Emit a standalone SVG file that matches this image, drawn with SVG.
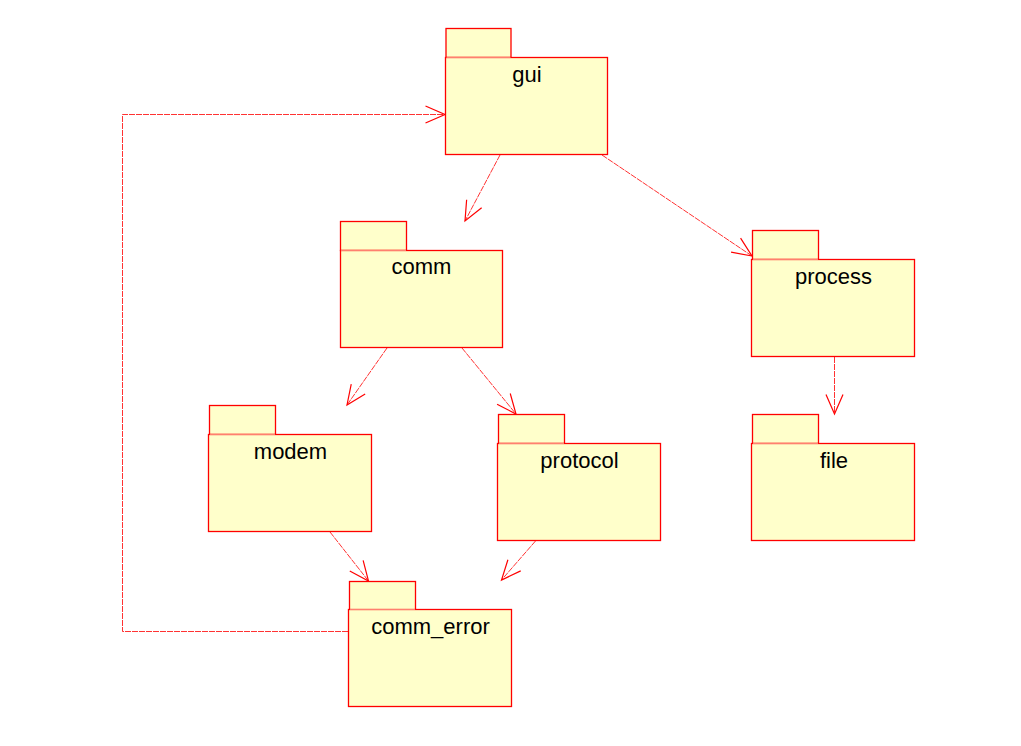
<svg xmlns="http://www.w3.org/2000/svg" width="1021" height="746" viewBox="0 0 1021 746">
<style>
.tab{fill:#ffffcb;stroke:#f00;stroke-width:1.3}
.body{fill:#ffffcb;stroke:#f00;stroke-width:1.3}
.join{stroke:#ff8070;stroke-width:1.2}
.lbl{font-family:"Liberation Sans",Arial,sans-serif;font-size:22px;fill:#000;text-anchor:middle}
.dep{fill:none;stroke:#f00;stroke-width:1;stroke-dasharray:6 1;stroke-opacity:0.8}
</style>
<defs>
<marker id="open" markerUnits="userSpaceOnUse" markerWidth="24" markerHeight="20" viewBox="-22 -10 24 20" refX="0" refY="0" orient="auto" overflow="visible">
<path d="M-19.5,-8.5 L0,0 L-19.5,8.5" fill="none" stroke="#f00" stroke-width="1.2"/>
</marker>
</defs>
<rect width="1021" height="746" fill="#fff"/>
<g id="connectors">
<line class="dep" x1="500" y1="155" x2="465" y2="221" marker-end="url(#open)"/>
<line class="dep" x1="602" y1="155" x2="752" y2="256" marker-end="url(#open)"/>
<line class="dep" x1="387" y1="348" x2="347" y2="405" marker-end="url(#open)"/>
<line class="dep" x1="462" y1="348" x2="516" y2="414" marker-end="url(#open)"/>
<line class="dep" x1="834.5" y1="357" x2="834.5" y2="414" marker-end="url(#open)"/>
<line class="dep" x1="330" y1="532" x2="368.5" y2="581" marker-end="url(#open)"/>
<line class="dep" x1="535.5" y1="541" x2="501.5" y2="580" marker-end="url(#open)"/>
<polyline class="dep" points="348,631.5 122.5,631.5 122.5,114.5 445,114.5" marker-end="url(#open)"/>
</g>
<g id="gui">
<rect class="tab" x="446" y="28.5" width="65" height="29"/>
<rect class="body" x="445.5" y="57.5" width="162" height="97"/>
<line class="join" x1="446.5" y1="57.5" x2="510.5" y2="57.5"/>
<text class="lbl" x="527" y="82">gui</text>
</g>
<g id="comm">
<rect class="tab" x="340.5" y="221.5" width="66" height="29"/>
<rect class="body" x="340.5" y="250.5" width="162" height="97"/>
<line class="join" x1="341" y1="250.5" x2="406" y2="250.5"/>
<text class="lbl" x="421.5" y="274">comm</text>
</g>
<g id="process">
<rect class="tab" x="752.5" y="230.5" width="66" height="29"/>
<rect class="body" x="751.5" y="259.5" width="163" height="97"/>
<line class="join" x1="753" y1="259.5" x2="818" y2="259.5"/>
<text class="lbl" x="833.5" y="283.5">process</text>
</g>
<g id="modem">
<rect class="tab" x="209.5" y="405.5" width="66" height="29"/>
<rect class="body" x="208.5" y="434.5" width="163" height="97"/>
<line class="join" x1="210" y1="434.5" x2="275" y2="434.5"/>
<text class="lbl" x="290.5" y="458.5">modem</text>
</g>
<g id="protocol">
<rect class="tab" x="498.5" y="414.5" width="66" height="29"/>
<rect class="body" x="497.5" y="443.5" width="163" height="97"/>
<line class="join" x1="499" y1="443.5" x2="564" y2="443.5"/>
<text class="lbl" x="579.5" y="467.5">protocol</text>
</g>
<g id="file">
<rect class="tab" x="752.5" y="414.5" width="66" height="29"/>
<rect class="body" x="751.5" y="443.5" width="163" height="97"/>
<line class="join" x1="753" y1="443.5" x2="818" y2="443.5"/>
<text class="lbl" x="834" y="467.5">file</text>
</g>
<g id="comm_error">
<rect class="tab" x="349.5" y="581.5" width="66" height="28.5"/>
<rect class="body" x="348.5" y="609.5" width="163" height="97"/>
<line class="join" x1="350" y1="609.5" x2="415" y2="609.5"/>
<text class="lbl" x="430.5" y="634">comm_error</text>
</g>
</svg>
